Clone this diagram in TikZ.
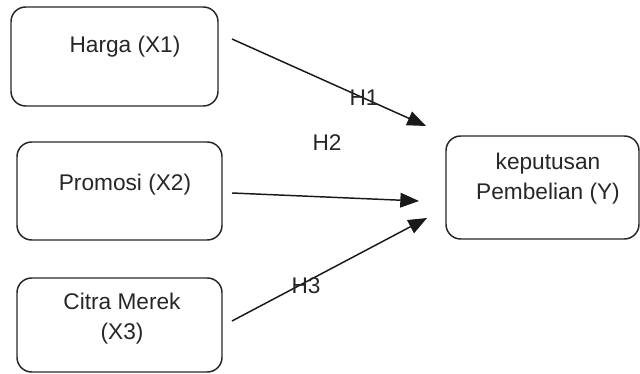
\documentclass[tikz,border=0pt]{standalone}
\usepackage{fontspec}
\setmainfont{Liberation Sans}
\usetikzlibrary{arrows.meta}
\begin{document}
\begin{tikzpicture}[x=0.75pt,y=-0.75pt,
  box/.style={draw=black!85,line width=1.1pt,rounded corners=11pt},
  txt/.style={text=black!85,font=\fontsize{17}{22.5}\selectfont,align=center,inner sep=0pt},
  conn/.style={draw=black!90,line width=1.1pt,-{Triangle[length=14pt,width=11pt]}},
  hlab/.style={text=black!85,font=\fontsize{17}{22.5}\selectfont,inner sep=0pt}]
\useasboundingbox (0,0) rectangle (640,374);
\draw[box] (11,7) rectangle (218,106);
\draw[box] (17,142) rectangle (222,240);
\draw[box] (17,278) rectangle (222,372);
\draw[box] (446,136) rectangle (639,239);
\node[txt] (x1) at (125,47) {Harga (X1)};
\node[txt] (x2) at (125,185) {Promosi (X2)};
\node[txt] (x3) at (122,319) {Citra Merek\\(X3)};
\node[txt] (y) at (548,179) {keputusan\\Pembelian (Y)};
\coordinate (s1) at (232,39);
\coordinate (e1) at (426,126);
\coordinate (s2) at (232,193);
\coordinate (e2) at (419,201);
\coordinate (s3) at (232,321);
\coordinate (e3) at (427,218);
\draw[conn] (s1) -- (e1);
\draw[conn] (s2) -- (e2);
\draw[conn] (s3) -- (e3);
\node[hlab] (h1) at (364,98) {H1};
\node[hlab] (h2) at (327,143) {H2};
\node[hlab] (h3) at (306,286) {H3};
\end{tikzpicture}
\end{document}
